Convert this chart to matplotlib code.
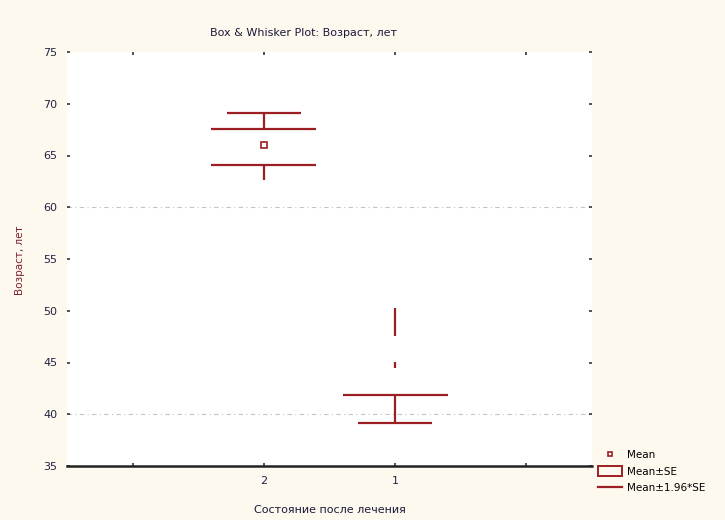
import matplotlib.pyplot as plt
from matplotlib.lines import Line2D
from matplotlib.patches import Rectangle

# groups, in the order they are drawn on the x axis
groups = ['2', '1']
group_pos = [2, 3]

means = [66.0, 44.8]
se_low = [64.1, 41.9]
se_high = [67.6, 47.6]
ci_low = [62.6, 39.2]
ci_high = [69.1, 50.3]

y_ticks = [35, 40, 45, 50, 55, 60, 65, 70, 75]

RED = '#9b1f22'
BG = '#fef9ee'

fig = plt.figure(figsize=(7.25, 5.2), dpi=100, facecolor=BG)
ax = fig.add_axes([67 / 725, 1 - 466 / 520, (592 - 67) / 725, (466 - 52) / 520])
ax.set_facecolor('white')

ax.set_xlim(0.5, 4.5)
ax.set_ylim(35, 75)

# grid lines only at 40 and 60, as in the original
for g in (40, 60):
    ax.axhline(g, color='#c4c4c4', lw=0.8, ls=(0, (4, 3, 1, 3)), zorder=1)

wide = 0.4
narrow = 0.28
for i, x in enumerate(group_pos):
    # lower part: SE line plus whisker down to 1.96*SE
    ax.hlines(se_low[i], x - wide, x + wide, color=RED, lw=1.6)
    ax.vlines(x, ci_low[i], se_low[i], color=RED, lw=1.6)
    if i == 0:
        # upper part drawn completely for the first group
        ax.hlines(se_high[i], x - wide, x + wide, color=RED, lw=1.6)
        ax.vlines(x, se_high[i], ci_high[i], color=RED, lw=1.6)
        ax.hlines(ci_high[i], x - narrow, x + narrow, color=RED, lw=1.6)
        ax.plot(x, means[i], marker='s', ms=4, mfc='white', mec=RED, mew=1.2)
    else:
        ax.vlines(x, se_high[i], ci_high[i], color=RED, lw=1.6)
        ax.hlines(ci_low[i], x - narrow, x + narrow, color=RED, lw=1.6)
        ax.plot(x, means[i], marker='|', ms=5, mec=RED, mew=1.6)

ax.set_yticks(y_ticks)
ax.set_yticklabels([str(t) for t in y_ticks], fontsize=8)
ax.set_xticks([1, 2, 3, 4])
ax.set_xticklabels(['', groups[0], groups[1], ''], fontsize=8)
ax.tick_params(axis='both', direction='in', length=2.5, width=1.2, pad=7,
               top=True, right=True, colors='#333333', labelcolor='#222244')

for s in ('top', 'right', 'left'):
    ax.spines[s].set_visible(False)
ax.spines['bottom'].set_linewidth(1.8)
ax.spines['bottom'].set_color('#222222')

fig.text(303 / 725, 1 - 33 / 520, 'Box & Whisker Plot: Возраст, лет',
         ha='center', va='center', fontsize=8, color='#1a1a3a')
fig.text(20 / 725, 1 - 260 / 520, 'Возраст, лет', rotation=90,
         ha='center', va='center', fontsize=7.5, color='#7a2030')
fig.text(330 / 725, 1 - 510 / 520, 'Состояние после лечения',
         ha='center', va='center', fontsize=8, color='#1a1a3a')

handles = [
    Line2D([], [], ls='none', marker='s', ms=3.5, mfc='white', mec=RED, mew=1.2),
    Rectangle((0, 0), 1, 1, fc='none', ec=RED, lw=1.4),
    Line2D([], [], color=RED, lw=1.6),
]
labels = ['Mean', 'Mean±SE', 'Mean±1.96*SE']
fig.legend(handles, labels, loc='upper left', bbox_to_anchor=(594 / 725, 1 - 445 / 520),
           frameon=False, fontsize=7.5, handlelength=2.3, handleheight=1.2,
           handletextpad=0.5, labelspacing=0.55, borderaxespad=0)

fig.savefig('out.png', dpi=100, facecolor=BG)
